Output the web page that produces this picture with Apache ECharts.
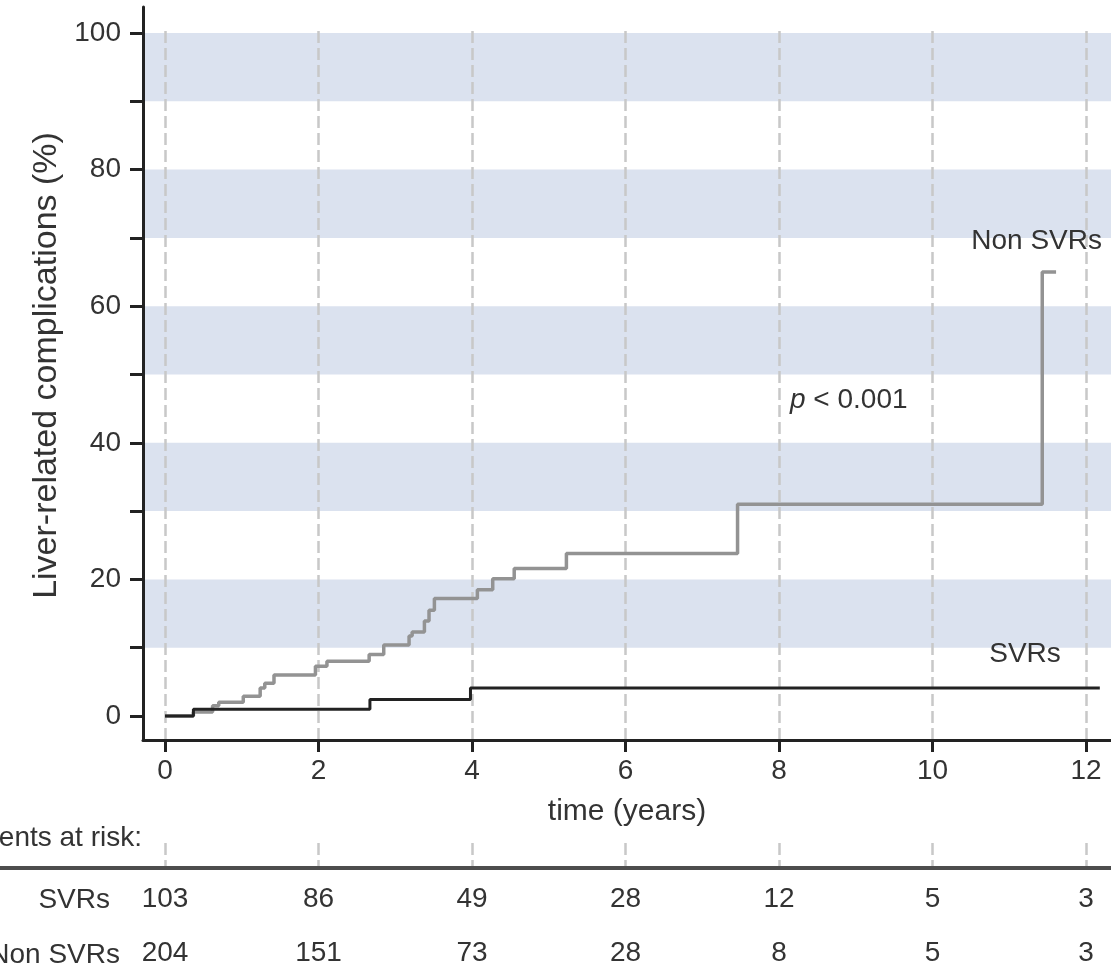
<!DOCTYPE html>
<html>
<head>
<meta charset="utf-8">
<title>Liver-related complications</title>
<script src="https://cdn.jsdelivr.net/npm/echarts@6/dist/echarts.min.js"></script>
<style>
  html, body { margin: 0; padding: 0; background: #fff; }
  #chart { width: 1111px; height: 980px; }
</style>
</head>
<body>
<div id="chart"></div>
<script>
// ---- data ----
const yearTicks = [0, 2, 4, 6, 8, 10, 12];
const pctTicks = [0, 10, 20, 30, 40, 50, 60, 70, 80, 90, 100];
const pctLabels = [0, 20, 40, 60, 80, 100];
const shadedBands = [[10, 20], [30, 40], [50, 60], [70, 80], [90, 100]];

// Kaplan-Meier steps: [time (years), cumulative %]
const nonSvrCurve = [
  [0, 0], [0.37, 0.6], [0.62, 1.5], [0.7, 2.0], [1.02, 2.9], [1.24, 4.1],
  [1.3, 4.8], [1.42, 6.0], [1.96, 7.3], [2.11, 8.0], [2.66, 9.0], [2.85, 10.4],
  [3.18, 11.7], [3.22, 12.3], [3.38, 13.9], [3.44, 15.5], [3.51, 17.2],
  [4.07, 18.5], [4.27, 20.1], [4.55, 21.6], [5.23, 23.8], [7.46, 31.0],
  [11.43, 65.0], [11.61, 65.0]
];
const svrCurve = [
  [0, 0], [0.37, 1.0], [2.67, 2.4], [3.98, 4.1], [12.18, 4.1]
];

const riskTimes = [0, 2, 4, 6, 8, 10, 12];
const riskSvr = [103, 86, 49, 28, 12, 5, 3];
const riskNonSvr = [204, 151, 73, 28, 8, 5, 3];

// ---- layout ----
const FONT = "Arial, 'Liberation Sans', Helvetica, sans-serif";
const TEXT = "#333";
const AXIS = "#222";
const width = 1111;
const plotLeft = 143, plotTop = 7, plotBottom = 740;
const xAt0 = 165, pxPerYear = 76.75;
const yAt0 = 716, pxPerPct = 6.83;
const xMin = (plotLeft - xAt0) / pxPerYear;
const xMax = (width - xAt0) / pxPerYear;
const yMin = (yAt0 - plotBottom) / pxPerPct;
const yMax = (yAt0 - plotTop) / pxPerPct;
const rightGap = width - (xAt0 + 12 * pxPerYear);

const dashed = { show: true, lineStyle: { color: "#c8c8c8", width: 2.5, type: [12, 5] } };

function gridAxisX(gridIndex) {
  return {
    type: "value", gridIndex, min: 0, max: 12, interval: 2, z: 1.5,
    axisLine: { show: false }, axisTick: { show: false }, axisLabel: { show: false },
    splitLine: dashed
  };
}

function riskSeries(name, counts) {
  return {
    type: "scatter", name, xAxisIndex: 3, yAxisIndex: 3,
    symbolSize: 0, silent: true,
    itemStyle: { opacity: 1 },
    data: riskTimes.map((t, i) => [t, name, counts[i]]),
    label: {
      show: true, position: "inside", formatter: (p) => String(p.value[2]),
      fontFamily: FONT, fontSize: 28, color: TEXT
    }
  };
}

function txt(text, x, y, align, size) {
  return {
    type: "text", x, y, z: 10, silent: true,
    style: { text, align, verticalAlign: "middle", fontFamily: FONT, fontSize: size || 28, fill: TEXT }
  };
}

const chart = echarts.init(document.getElementById("chart"), null, { renderer: "canvas" });

chart.setOption({
  animation: false,
  backgroundColor: "#fff",
  textStyle: { fontFamily: FONT },
  grid: [
    { left: plotLeft, right: 0, top: plotTop, height: plotBottom - plotTop },
    { left: xAt0, right: rightGap, top: 31, height: plotBottom - 31 },
    { left: xAt0, right: rightGap, top: 843, height: 25 },
    { left: xAt0, right: rightGap, top: 872, height: 110 }
  ],
  xAxis: [
    {
      type: "value", gridIndex: 0, min: xMin, max: xMax, z: 3,
      axisLine: { onZero: false, lineStyle: { color: AXIS, width: 3 } },
      axisTick: { customValues: yearTicks, length: 12, lineStyle: { color: AXIS, width: 3 } },
      axisLabel: { customValues: yearTicks, fontSize: 28, color: TEXT, margin: 17, fontFamily: FONT },
      splitLine: { show: false },
      name: "time (years)", nameLocation: "middle", nameGap: 57,
      nameTextStyle: { fontSize: 30, color: TEXT, fontFamily: FONT }
    },
    gridAxisX(1),
    gridAxisX(2),
    { type: "value", gridIndex: 3, min: 0, max: 12, show: false }
  ],
  yAxis: [
    {
      type: "value", gridIndex: 0, min: yMin, max: yMax, z: 3,
      axisLine: { show: true, onZero: false, lineStyle: { color: AXIS, width: 3 } },
      axisTick: { show: true, customValues: pctTicks, length: 13, lineStyle: { color: AXIS, width: 3 } },
      axisLabel: { customValues: pctLabels, fontSize: 28, color: TEXT, margin: 22, fontFamily: FONT },
      splitLine: { show: false },
      name: "Liver-related complications (%)", nameLocation: "middle", nameGap: 78, nameRotate: 90,
      nameTextStyle: { fontSize: 34, color: TEXT, fontFamily: FONT, padding: [0, 0, 0, 16] }
    },
    { type: "value", gridIndex: 1, min: 0, max: 1, show: false },
    { type: "value", gridIndex: 2, min: 0, max: 1, show: false },
    { type: "category", gridIndex: 3, data: ["SVRs", "Non SVRs"], inverse: true, show: false }
  ],
  series: [
    {
      type: "line", name: "Non SVRs", data: nonSvrCurve, step: "end",
      showSymbol: false, silent: true,
      lineStyle: { color: "#939393", width: 3.5 },
      markArea: {
        silent: true,
        itemStyle: { color: "#dbe2ef" },
        data: shadedBands.map(([a, b]) => [{ yAxis: a }, { yAxis: b }])
      }
    },
    {
      type: "line", name: "SVRs", data: svrCurve, step: "end",
      showSymbol: false, silent: true,
      lineStyle: { color: AXIS, width: 3 }
    },
    riskSeries("SVRs", riskSvr),
    riskSeries("Non SVRs", riskNonSvr)
  ],
  graphic: [
    { type: "line", silent: true, z: 10, shape: { x1: 0, y1: 868, x2: width, y2: 868 },
      style: { stroke: "#4d4d4d", lineWidth: 4 } },
    txt("Patients at risk:", 142, 838, "right"),
    txt("SVRs", 110, 900, "right"),
    txt("Non SVRs", 120, 955, "right"),
    txt("Non SVRs", 1102, 241, "right"),
    txt("SVRs", 1025, 654, "center"),
    {
      type: "text", x: 790, y: 400, z: 10, silent: true,
      style: {
        text: "{i|p} < 0.001", align: "left", verticalAlign: "middle",
        fontFamily: FONT, fontSize: 28, fill: TEXT,
        rich: { i: { fontStyle: "italic", fontFamily: FONT, fontSize: 28, fill: TEXT } }
      }
    }
  ]
});
</script>
</body>
</html>
